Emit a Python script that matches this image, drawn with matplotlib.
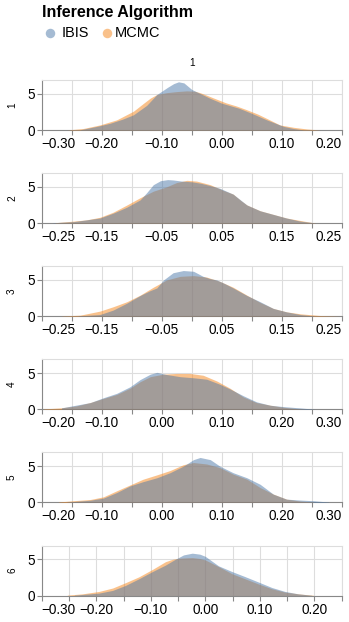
import matplotlib
matplotlib.use("Agg")
import matplotlib.pyplot as plt
from matplotlib.lines import Line2D
import numpy as np

plt.rcParams['font.family'] = ['Liberation Sans', 'DejaVu Sans']

# ---------------- data (density curves) ----------------
rows = ["1", "2", "3", "4", "5", "6"]
algorithms = ["IBIS", "MCMC"]
colors = {"IBIS": "#4c78a8", "MCMC": "#f58518"}

ibis_x_1 = [-0.235, -0.208, -0.186, -0.165, -0.147, -0.125, -0.108, -0.090, -0.080, -0.072, -0.063, -0.050, -0.035, -0.020, 0.0, 0.029, 0.050, 0.075, 0.103, 0.120, 0.135]
ibis_y_1 = [0.05, 0.5, 0.93, 1.5, 2.1, 3.4, 4.9, 5.9, 6.4, 6.65, 6.5, 5.6, 5.0, 4.4, 3.7, 3.0, 2.3, 1.4, 0.5, 0.2, 0.03]
mcmc_x_1 = [-0.258, -0.231, -0.203, -0.175, -0.147, -0.130, -0.119, -0.108, -0.092, -0.075, -0.058, -0.045, -0.036, -0.025, -0.013, 0.007, 0.025, 0.040, 0.060, 0.075, 0.097, 0.120, 0.142, 0.164]
mcmc_y_1 = [0.0, 0.2, 0.7, 1.4, 2.6, 3.7, 4.4, 4.9, 5.15, 5.3, 5.4, 5.35, 5.15, 4.8, 4.4, 3.75, 3.3, 2.85, 2.2, 1.6, 0.7, 0.37, 0.14, 0.0]

ibis_x_2 = [-0.231, -0.197, -0.153, -0.130, -0.108, -0.086, -0.075, -0.064, -0.052, -0.040, -0.031, -0.017, 0.0, 0.015, 0.030, 0.047, 0.069, 0.092, 0.114, 0.136, 0.158, 0.181, 0.203]
ibis_y_2 = [0.05, 0.2, 0.7, 1.4, 2.2, 3.2, 4.2, 5.3, 5.85, 6.0, 5.95, 5.8, 5.7, 5.5, 5.2, 4.8, 4.0, 2.5, 1.7, 1.2, 0.7, 0.27, 0.05]
mcmc_x_2 = [-0.228, -0.197, -0.175, -0.153, -0.131, -0.108, -0.086, -0.064, -0.042, -0.025, -0.008, 0.008, 0.031, 0.053, 0.069, 0.082, 0.092, 0.114, 0.136, 0.158, 0.181, 0.206]
mcmc_y_2 = [0.05, 0.27, 0.45, 0.8, 1.5, 2.5, 3.5, 4.4, 5.0, 5.6, 5.9, 5.8, 5.3, 4.5, 4.0, 3.1, 2.5, 1.7, 1.2, 0.7, 0.36, 0.0]

ibis_x_3 = [-0.189, -0.153, -0.131, -0.108, -0.086, -0.070, -0.058, -0.047, -0.031, -0.014, 0.003, 0.019, 0.030, 0.042, 0.055, 0.069, 0.092, 0.114, 0.136, 0.158, 0.181, 0.203]
ibis_y_3 = [0.05, 0.23, 0.84, 1.8, 2.85, 3.5, 3.9, 5.0, 6.0, 6.3, 6.2, 5.5, 5.2, 5.0, 4.5, 3.9, 2.85, 2.0, 1.07, 0.6, 0.23, 0.05]
mcmc_x_3 = [-0.217, -0.186, -0.153, -0.131, -0.108, -0.086, -0.064, -0.042, -0.019, 0.003, 0.025, 0.047, 0.069, 0.092, 0.114, 0.136, 0.158, 0.181, 0.214, 0.247]
mcmc_y_3 = [0.02, 0.14, 0.7, 1.3, 2.0, 2.9, 4.0, 5.0, 5.5, 5.6, 5.4, 4.8, 4.0, 2.9, 1.9, 1.07, 0.6, 0.33, 0.09, 0.0]

ibis_x_4 = [-0.167, -0.119, -0.097, -0.075, -0.053, -0.036, -0.019, -0.008, 0.008, 0.031, 0.053, 0.075, 0.097, 0.114, 0.136, 0.158, 0.181, 0.203, 0.231, 0.256]
ibis_y_4 = [0.2, 0.93, 1.6, 2.2, 3.1, 4.1, 4.85, 5.1, 4.8, 4.5, 4.35, 4.15, 3.45, 2.8, 1.87, 1.03, 0.56, 0.37, 0.19, 0.0]
mcmc_x_4 = [-0.197, -0.167, -0.142, -0.119, -0.097, -0.075, -0.053, -0.036, -0.019, 0.003, 0.025, 0.047, 0.069, 0.092, 0.114, 0.136, 0.158, 0.181, 0.203, 0.225, 0.242]
mcmc_y_4 = [0.05, 0.2, 0.47, 0.93, 1.5, 2.05, 2.9, 3.8, 4.5, 4.85, 4.95, 4.95, 4.7, 3.9, 2.9, 1.7, 0.93, 0.56, 0.28, 0.09, 0.0]

ibis_x_5 = [-0.158, -0.119, -0.097, -0.075, -0.053, -0.031, -0.008, 0.014, 0.036, 0.053, 0.064, 0.081, 0.097, 0.119, 0.142, 0.164, 0.186, 0.208, 0.231, 0.253, 0.278]
ibis_y_5 = [0.05, 0.3, 0.6, 1.36, 2.27, 2.86, 3.4, 4.1, 5.0, 5.9, 6.2, 5.9, 5.0, 4.1, 3.4, 2.5, 1.14, 0.45, 0.32, 0.23, 0.05]
mcmc_x_5 = [-0.172, -0.147, -0.119, -0.097, -0.075, -0.053, -0.031, -0.008, 0.014, 0.036, 0.053, 0.075, 0.097, 0.119, 0.142, 0.164, 0.186, 0.208, 0.231, 0.253]
mcmc_y_5 = [0.05, 0.23, 0.4, 0.77, 1.6, 2.4, 3.2, 3.8, 4.4, 5.2, 5.5, 5.3, 4.8, 3.9, 3.2, 2.05, 1.14, 0.45, 0.18, 0.05]

ibis_x_6 = [-0.240, -0.195, -0.170, -0.146, -0.122, -0.097, -0.073, -0.055, -0.040, -0.024, -0.010, 0.0, 0.024, 0.049, 0.073, 0.097, 0.122, 0.146, 0.170, 0.195]
ibis_y_6 = [0.05, 0.33, 0.7, 1.4, 2.3, 3.3, 4.2, 5.0, 5.6, 5.84, 5.7, 5.4, 4.1, 3.3, 2.6, 1.87, 1.1, 0.56, 0.23, 0.03]
mcmc_x_6 = [-0.253, -0.225, -0.195, -0.170, -0.146, -0.122, -0.097, -0.073, -0.060, -0.049, -0.024, -0.010, 0.0, 0.024, 0.049, 0.073, 0.097, 0.122, 0.146, 0.170, 0.198]
mcmc_y_6 = [0.05, 0.23, 0.56, 1.03, 1.78, 2.57, 3.6, 4.67, 5.0, 5.14, 5.23, 5.1, 4.9, 4.0, 3.0, 2.3, 1.6, 0.93, 0.47, 0.23, 0.03]

ibis_x = [ibis_x_1, ibis_x_2, ibis_x_3, ibis_x_4, ibis_x_5, ibis_x_6]
ibis_y = [ibis_y_1, ibis_y_2, ibis_y_3, ibis_y_4, ibis_y_5, ibis_y_6]
mcmc_x = [mcmc_x_1, mcmc_x_2, mcmc_x_3, mcmc_x_4, mcmc_x_5, mcmc_x_6]
mcmc_y = [mcmc_y_1, mcmc_y_2, mcmc_y_3, mcmc_y_4, mcmc_y_5, mcmc_y_6]

x_domains = [(-0.30, 0.20), (-0.25, 0.25), (-0.25, 0.25), (-0.20, 0.30), (-0.20, 0.30), (-0.30, 0.25)]
y_max = 6.9
y_ticks = [0, 5]

# ---------------- layout ----------------
W, H = 349, 622
fig = plt.figure(figsize=(W / 100, H / 100), dpi=100)

def px(v):
    return v * 72 / 100  # px -> pt

left_px, width_px, height_px = 41.7, 300.0, 50.0
top0, stride = 80.0, 93.1
grid_c = "#dddddd"
axis_c = "#888888"

def fmt(t):
    if abs(t) < 1e-9:
        t = 0.0
    return ("%.2f" % t).replace("-", "\u2212")

for i, r in enumerate(rows):
    top = top0 + stride * i
    ax = fig.add_axes([left_px / W, 1 - (top + height_px) / H, width_px / W, height_px / H])
    lo, hi = x_domains[i]
    ax.set_xlim(lo, hi)
    ax.set_ylim(0, y_max)

    ax.fill_between(mcmc_x[i], mcmc_y[i], 0, color=colors["MCMC"], alpha=0.5, lw=0, zorder=3)
    ax.fill_between(ibis_x[i], ibis_y[i], 0, color=colors["IBIS"], alpha=0.5, lw=0, zorder=4)

    ticks = np.round(np.arange(lo, hi + 1e-9, 0.05), 2)
    ax.set_xticks(ticks)
    labels = [fmt(t) if k % 2 == 0 else "" for k, t in enumerate(ticks)]
    ax.set_xticklabels(labels)
    ax.set_yticks(y_ticks)
    ax.set_yticklabels([str(t) for t in y_ticks])
    ax.grid(True, color=grid_c, lw=0.8, zorder=0)
    ax.set_axisbelow(True)

    for s in ["top", "right"]:
        ax.spines[s].set_color(grid_c)
        ax.spines[s].set_linewidth(0.8)
    for s in ["left", "bottom"]:
        ax.spines[s].set_color(axis_c)
        ax.spines[s].set_linewidth(0.8)
    ax.tick_params(axis="both", length=px(5), width=0.8, color=axis_c,
                   labelsize=px(13.5), labelcolor="black", pad=px(2))

    xl = ax.get_xticklabels()
    xl[0].set_horizontalalignment("left")
    nonempty = [k for k, l in enumerate(labels) if l]
    if ticks[nonempty[-1]] >= hi - 1e-9:
        xl[nonempty[-1]].set_horizontalalignment("right")

    fig.text(12 / W, 1 - (top + height_px / 2) / H, r, rotation=90,
             ha="center", va="center", fontsize=px(10))

# column header
fig.text(192 / W, 1 - 63 / H, "1", ha="center", va="center", fontsize=px(10))

# legend
fig.text(42 / W, 1 - 12.7 / H, "Inference Algorithm", ha="left", va="center",
         fontsize=px(16), fontweight="bold")
for (cx, tx, name) in [(50, 62, "IBIS"), (106.7, 115, "MCMC")]:
    fig.add_artist(Line2D([cx / W], [1 - 33 / H], marker="o", markersize=px(9.5),
                          color=colors[name], alpha=0.5, lw=0, markeredgewidth=0,
                          transform=fig.transFigure))
    fig.text(tx / W, 1 - 33 / H, name, ha="left", va="center", fontsize=px(14.5))

fig.savefig("out.png", dpi=100)
